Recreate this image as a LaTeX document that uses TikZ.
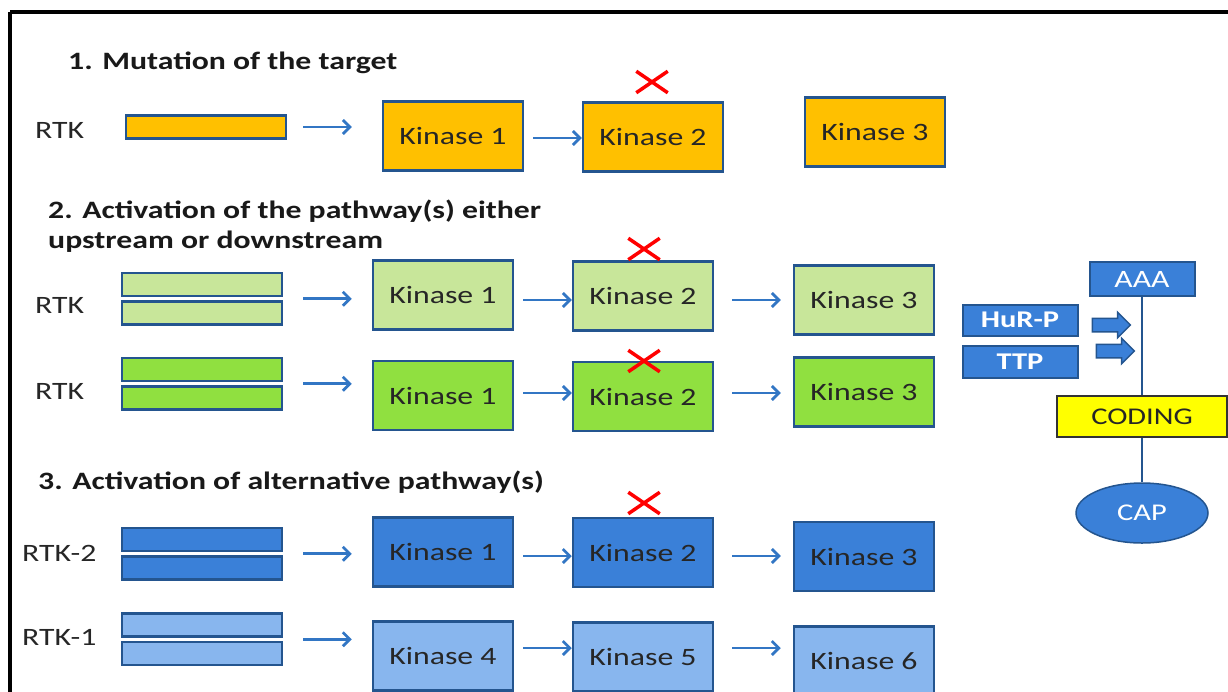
\documentclass[tikz,border=0pt]{standalone}
\usepackage{fontspec}
\setmainfont[FakeStretch=1.27]{Carlito}
\usetikzlibrary{arrows.meta,shapes.geometric,shapes.misc,shapes.arrows,calc}
\definecolor{orng}{HTML}{FFC000}
\definecolor{lgreen}{HTML}{C8E69A}
\definecolor{mgreen}{HTML}{90E040}
\definecolor{dblue}{HTML}{3A80D8}
\definecolor{lblue}{HTML}{88B6EE}
\definecolor{bord}{HTML}{24558F}
\definecolor{arrc}{HTML}{3276C4}
\definecolor{yel}{HTML}{FFFF00}
\begin{document}
\begin{tikzpicture}[x=1pt,y=-1pt,
  kbox/.style={draw=bord,line width=2.5pt,minimum width=140pt,minimum height=69pt,inner sep=0pt,font=\fontsize{25}{28}\selectfont,text=black!85},
  bar/.style={draw=bord,line width=2.2pt,minimum width=160pt,minimum height=23pt,inner sep=0pt},
  lab/.style={font=\fontsize{25}{28}\selectfont,text=black!85,inner sep=0pt},
  head/.style={font=\bfseries\fontsize{25}{30}\selectfont,anchor=west,inner sep=0pt,align=left,text=black!90},
  arr/.style={draw=arrc,line width=2.7pt,-{Straight Barb[length=7pt,width=14pt]}},
  crossx/.style={cross out,draw=red,line width=3.5pt,minimum width=28pt,minimum height=18pt,inner sep=0pt},
  bluebox/.style={fill=dblue,draw=bord,line width=2pt,inner sep=0pt,text=white},
  blockarr/.style={single arrow,fill=dblue,draw=bord,line width=1.5pt,inner sep=6pt,single arrow head extend=6pt,minimum height=38pt}
]
\useasboundingbox (0,0) rectangle (1228,691);
\draw[line width=4pt] (10,12) -- (1240,12);
\draw[line width=4pt] (10,12) -- (10,700);

% Section 1
\node[head] (h1) at (68,63) {1. Mutation of the target};
\node[lab,anchor=west] (rtk1) at (35,130) {RTK};
\node[bar,fill=orng] (b1) at (206,127) {};
\node[kbox,fill=orng] (k11) at (453,136) {Kinase 1};
\node[kbox,fill=orng] (k12) at (653,137) {Kinase 2};
\node[kbox,fill=orng] (k13) at (875,132) {Kinase 3};
\node[crossx] (x1) at (652,82) {};
\draw[arr,shorten <=16pt,shorten >=30pt] (b1.east) -- (b1.east -| k11.west);
\draw[arr,shorten <=9pt] (k11.east |- 0,138) -- (k12.west |- 0,138);

% Section 2
\node[head] (h2) at (48,226) {2. Activation of the pathway(s) either\\upstream or downstream};
\node[lab,anchor=west] (rtk2a) at (35,305) {RTK};
\node[bar,fill=lgreen] (b2a1) at (202,284.5) {};
\node[bar,fill=lgreen] (b2a2) at (202,313) {};
\coordinate (m2a) at ($(b2a1.south east)!0.5!(b2a2.north east)$);
\node[kbox,fill=lgreen] (k21) at (443,295) {Kinase 1};
\node[kbox,fill=lgreen] (k22) at (643,296) {Kinase 2};
\node[kbox,fill=lgreen] (k23) at (864,300) {Kinase 3};
\node[crossx] (x2) at (644,249) {};
\draw[arr,shorten <=20pt,shorten >=20pt] (m2a) -- (m2a -| k21.west);
\draw[arr,shorten <=9pt] (k21.east |- 0,300) -- (k22.west |- 0,300);
\draw[arr,shorten <=18pt,shorten >=12pt] (k22.east |- 0,300) -- (k23.west |- 0,300);

\node[lab,anchor=west] (rtk2b) at (35,391) {RTK};
\node[bar,fill=mgreen] (b2b1) at (202,369.5) {};
\node[bar,fill=mgreen] (b2b2) at (202,398) {};
\coordinate (m2b) at ($(b2b1.south east)!0.5!(b2b2.north east)$);
\node[kbox,fill=mgreen] (k24) at (443,395.5) {Kinase 1};
\node[kbox,fill=mgreen] (k25) at (643,396.5) {Kinase 2};
\node[kbox,fill=mgreen] (k26) at (864,392) {Kinase 3};
\node[crossx] (x3) at (644,361) {};
\draw[arr,shorten <=20pt,shorten >=20pt] (m2b) -- (m2b -| k24.west);
\draw[arr,shorten <=9pt] (k24.east |- 0,393) -- (k25.west |- 0,393);
\draw[arr,shorten <=18pt,shorten >=12pt] (k25.east |- 0,393) -- (k26.west |- 0,393);

% Section 3
\node[head] (h3) at (38,482) {3. Activation of alternative pathway(s)};
\node[lab,anchor=west] (rtk3a) at (22,553) {RTK-2};
\node[bar,fill=dblue] (b3a1) at (202,539.5) {};
\node[bar,fill=dblue] (b3a2) at (202,568) {};
\coordinate (m3a) at ($(b3a1.south east)!0.5!(b3a2.north east)$);
\node[kbox,fill=dblue] (k31) at (443,552) {Kinase 1};
\node[kbox,fill=dblue] (k32) at (643,552.5) {Kinase 2};
\node[kbox,fill=dblue] (k33) at (864,556.5) {Kinase 3};
\node[crossx] (x4) at (644,503) {};
\draw[arr,shorten <=20pt,shorten >=20pt] (m3a) -- (m3a -| k31.west);
\draw[arr,shorten <=9pt] (k31.east |- 0,556) -- (k32.west |- 0,556);
\draw[arr,shorten <=18pt,shorten >=12pt] (k32.east |- 0,556) -- (k33.west |- 0,556);

\node[lab,anchor=west] (rtk3b) at (22,637) {RTK-1};
\node[bar,fill=lblue] (b3b1) at (202,625) {};
\node[bar,fill=lblue] (b3b2) at (202,653.5) {};
\coordinate (m3b) at ($(b3b1.south east)!0.5!(b3b2.north east)$);
\node[kbox,fill=lblue] (k34) at (443,656) {Kinase 4};
\node[kbox,fill=lblue] (k35) at (643,657) {Kinase 5};
\node[kbox,fill=lblue] (k36) at (864,661) {Kinase 6};
\draw[arr,shorten <=20pt,shorten >=20pt] (m3b) -- (m3b -| k34.west);
\draw[arr,shorten <=9pt] (k34.east |- 0,648) -- (k35.west |- 0,648);
\draw[arr,shorten <=18pt,shorten >=12pt] (k35.east |- 0,648) -- (k36.west |- 0,648);

% Right side mRNA
\node[bluebox,minimum width=105pt,minimum height=34pt,font=\fontsize{25}{27}\selectfont] (aaa) at (1142,279) {AAA};
\node[bluebox,minimum width=115pt,minimum height=31pt,font=\bfseries\fontsize{24}{26}\selectfont] (hur) at (1020,320) {HuR-P};
\node[bluebox,minimum width=115pt,minimum height=32pt,font=\bfseries\fontsize{24}{26}\selectfont] (ttp) at (1020,362) {TTP};
\node[draw=black!80,fill=yel,line width=1.5pt,minimum width=170pt,minimum height=41pt,inner sep=0pt,font=\fontsize{24}{26}\selectfont,text=black!85] (cod) at (1142,416.5) {CODING};
\node[ellipse,fill=dblue,draw=bord,line width=1.5pt,minimum width=132pt,minimum height=60pt,inner sep=0pt,text=white,font=\fontsize{24}{26}\selectfont] (cap) at (1142,513) {CAP};
\draw[draw=bord,line width=1.5pt] (aaa.south) -- (cod.north);
\draw[draw=bord,line width=1.5pt] (cod.south) -- (cap.north);
\node[blockarr] (ar1) at (1108,325) {};
\node[blockarr] (ar2) at (1112,351) {};
\end{tikzpicture}
\end{document}
